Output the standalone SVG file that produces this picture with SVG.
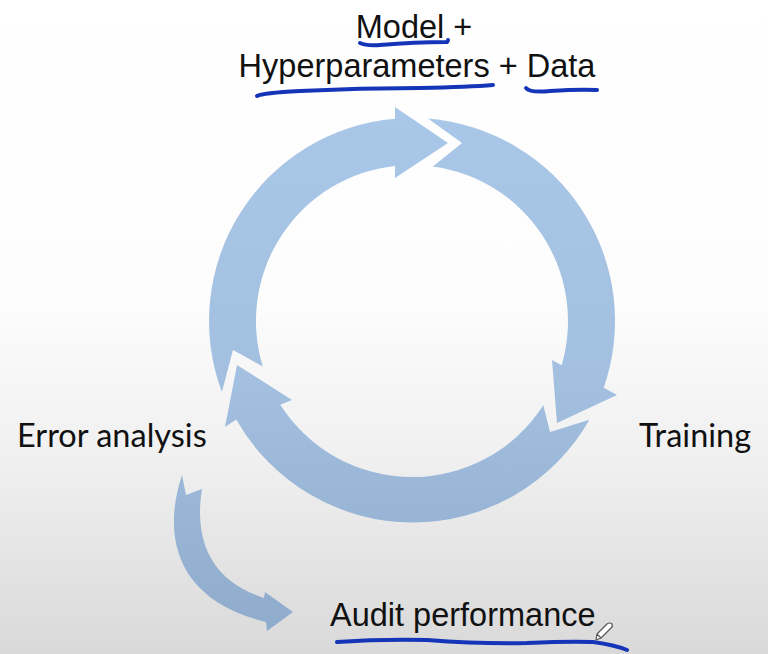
<svg xmlns="http://www.w3.org/2000/svg" width="768" height="654" viewBox="0 0 768 654">
  <defs>
    <linearGradient id="bg" x1="0" y1="0" x2="0" y2="654" gradientUnits="userSpaceOnUse">
      <stop offset="0" stop-color="#ffffff"/>
      <stop offset="0.45" stop-color="#fdfdfd"/>
      <stop offset="0.7" stop-color="#f0f0f0"/>
      <stop offset="1" stop-color="#d9d9d9"/>
    </linearGradient>
    <linearGradient id="arrowFill" x1="0" y1="100" x2="0" y2="654" gradientUnits="userSpaceOnUse">
      <stop offset="0" stop-color="#a9c7e8"/>
      <stop offset="0.5" stop-color="#a3c0e0"/>
      <stop offset="1" stop-color="#8eaacb"/>
    </linearGradient>
    <style>
      .arrow { fill: url(#arrowFill); }
      .sans { font-family: "Liberation Sans", Arial, sans-serif; font-size: 32.5px; fill: #111111; }
      .lato { font-family: Lato, "Open Sans", sans-serif; font-size: 32.5px; fill: #111111; }
      .ink { fill: none; stroke: #1535b8; stroke-width: 4; stroke-linecap: round; stroke-linejoin: round; }
    </style>
  </defs>

  <rect width="768" height="654" fill="url(#bg)"/>

  <!-- cycle arrows and the side arrow -->
  <g id="connectors">
    <path id="arrow-error-to-model" class="arrow" d="M 221.9 392.1 A 203 203 0 0 1 395 118.7 L 395 107 L 448 143 L 395 178 L 395 165.9 A 156 156 0 0 0 262.8 366.6 L 233 350 Z"/>
    <path id="arrow-model-to-training" class="arrow" d="M 427.9 118.6 A 203 203 0 0 1 603.7 387.8 L 617 395 L 557 423 L 552 360 L 561.6 365.2 A 156 156 0 0 0 432.9 166.4 L 462 143 Z"/>
    <path id="arrow-training-to-error" class="arrow" d="M 589.4 419.7 A 203 203 0 0 1 236.2 419.5 L 225 427 L 237 365 L 292 400 L 280.3 404.7 A 156 156 0 0 0 543.3 405.3 L 550 432 Z"/>
    <path id="arrow-error-to-audit" class="arrow" d="M 182 475 C 162 535 175 600 266 622 L 267 631 L 293 612 L 265 592 L 264 598 C 215 582 193 545 202 489 L 186 495 Z"/>
  </g>

  <g id="node-model-data">
    <text class="sans" x="414" y="38" text-anchor="middle">Model +</text>
    <text class="sans" x="417" y="77" text-anchor="middle">Hyperparameters + Data</text>
    <path class="ink" d="M 360 43 Q 366 46 380 45 Q 415 42 447 42 Q 448 41 448 40"/>
    <path class="ink" d="M 257 96 Q 262 93 300 91 Q 360 88 420 88 Q 470 87 493 85"/>
    <path class="ink" d="M 526 88 Q 530 93 550 91 Q 580 89 597 90"/>
  </g>

  <g id="node-error-analysis">
    <text class="lato" x="17" y="447">Error analysis</text>
  </g>

  <g id="node-training">
    <text class="lato" x="639" y="447">Training</text>
  </g>

  <g id="node-audit">
    <text class="sans" x="330" y="626">Audit performance</text>
    <path class="ink" d="M 337 642 Q 380 639 427 640 Q 480 644 527 643 Q 570 641 593 642 Q 615 645 627 650"/>
    <!-- pen cursor -->
    <path d="M 596 640 L 597 634 L 607 624 Q 610 622 612 624 Q 613 627 611 628 L 601 638 Z M 597 634 L 601 638" fill="#ffffff" stroke="#555555" stroke-width="1.2" stroke-linejoin="round"/>
  </g>
</svg>
